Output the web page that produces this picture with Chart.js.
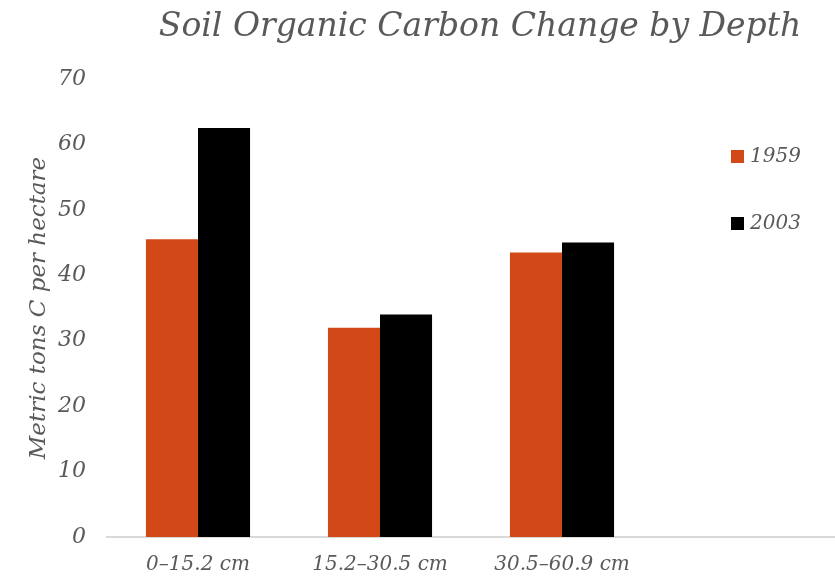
<!DOCTYPE html>
<html>
<head>
<meta charset="utf-8">
<script src="https://cdn.jsdelivr.net/npm/chart.js@4/dist/chart.umd.min.js"></script>
<style>
  html, body { margin: 0; padding: 0; background: #ffffff; }
  canvas { display: block; }
</style>
</head>
<body>
<canvas id="chart" width="835" height="580"></canvas>
<script>
// Soil organic carbon stocks (metric tons C per hectare) by sampling depth
const categories = ['0–15.2 cm', '15.2–30.5 cm', '30.5–60.9 cm', ''];
const seriesNames = ['1959', '2003'];
const carbon1959 = [45.5, 32.0, 43.5, null];
const carbon2003 = [62.5, 34.0, 45.0, null];
const yTickValues = [0, 10, 20, 30, 40, 50, 60, 70];
const chartTitle = 'Soil Organic Carbon Change by Depth';

const FONT = '"DejaVu Serif", serif';
const TEXT = '#595959';
const COLORS = ['#D34817', '#000000'];

// Title centred over the right-hand part of the figure
const headline = {
  id: 'headline',
  afterDraw(chart) {
    const { ctx, chartArea } = chart;
    ctx.save();
    ctx.font = 'italic 33px ' + FONT;
    ctx.fillStyle = TEXT;
    ctx.textAlign = 'center';
    ctx.textBaseline = 'middle';
    ctx.fillText(chartTitle, chartArea.left + 373, chartArea.top - 52);
    ctx.restore();
  }
};

// Legend drawn inside the plot, over the empty fourth slot
const insideLegend = {
  id: 'insideLegend',
  afterDraw(chart) {
    const { ctx, chartArea } = chart;
    ctx.save();
    ctx.font = 'italic 20px ' + FONT;
    ctx.textBaseline = 'middle';
    ctx.textAlign = 'left';
    chart.data.datasets.forEach((ds, i) => {
      const x = chartArea.right - 104;
      const y = chartArea.top + 77 + i * 67;
      ctx.fillStyle = ds.backgroundColor;
      ctx.fillRect(x, y - 6, 13, 13);
      ctx.fillStyle = TEXT;
      ctx.fillText(ds.label, x + 19, y + 1);
    });
    ctx.restore();
  }
};

new Chart(document.getElementById('chart'), {
  type: 'bar',
  data: {
    labels: categories,
    datasets: [
      { label: seriesNames[0], data: carbon1959, backgroundColor: COLORS[0] },
      { label: seriesNames[1], data: carbon2003, backgroundColor: COLORS[1] }
    ]
  },
  options: {
    responsive: false,
    animation: false,
    layout: { padding: { top: 79, right: 0, bottom: 0, left: 0 } },
    datasets: {
      bar: { categoryPercentage: 0.572, barPercentage: 1.0 }
    },
    plugins: {
      legend: { display: false },
      tooltip: { enabled: false },
      title: { display: false }
    },
    scales: {
      x: {
        afterFit(scale) { scale.height = 43; },
        grid: { display: false, drawTicks: false },
        border: { display: true, color: '#D9D9D9', width: 2 },
        ticks: {
          color: TEXT,
          padding: 16,
          maxRotation: 0,
          autoSkip: false,
          font: { family: FONT, size: 20, style: 'italic' }
        }
      },
      y: {
        min: 0,
        max: 70,
        afterBuildTicks(scale) {
          scale.ticks = yTickValues.map(v => ({ value: v }));
        },
        afterFit(scale) { scale.width = 107; },
        grid: { display: false, drawTicks: false },
        border: { display: false },
        ticks: {
          color: TEXT,
          padding: 21,
          font: { family: FONT, size: 22, style: 'italic' }
        },
        title: {
          display: true,
          text: 'Metric tons C per hectare',
          color: TEXT,
          padding: { top: 25, bottom: 0 },
          font: { family: FONT, size: 23, style: 'italic' }
        }
      }
    }
  },
  plugins: [headline, insideLegend]
});
</script>
</body>
</html>
